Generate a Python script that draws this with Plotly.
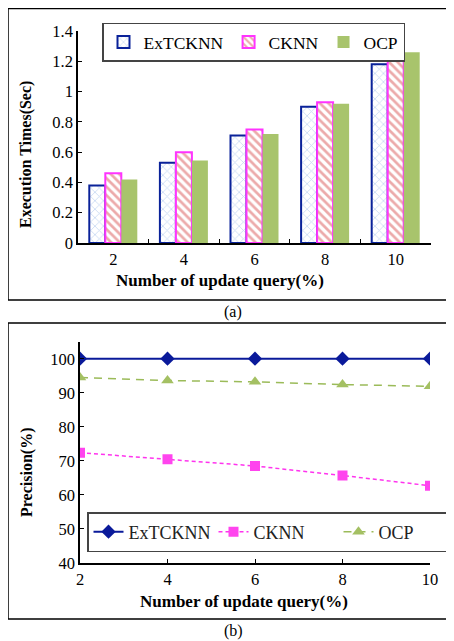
import plotly.graph_objects as go

# The page body has an 8px margin, so the figure is drawn at (8, 8).
OFF = 8
W, H = 454 - OFF, 641 - OFF

# ---- data ----
categories = ["2", "4", "6", "8", "10"]
exec_extcknn = [0.38, 0.53, 0.71, 0.90, 1.18]
exec_cknn = [0.46, 0.60, 0.75, 0.93, 1.31]
exec_ocp = [0.42, 0.545, 0.72, 0.92, 1.26]

update_pct = [2, 4, 6, 8, 10]
prec_extcknn = [100, 100, 100, 100, 100]
prec_cknn = [72.4, 70.5, 68.5, 65.7, 62.7]
prec_ocp = [94.5, 93.6, 93.2, 92.4, 91.9]

SERIF = "Liberation Serif, Times New Roman, serif"


def px_x(p):
    return (p - OFF) / W


def px_y(p):
    return 1 - (p - OFF) / H


fig = go.Figure()

# ---- top: bar chart ----
fig.add_trace(go.Bar(
    x=categories, y=exec_extcknn, name="ExTCKNN", xaxis="x", yaxis="y", legend="legend",
    marker=dict(color="white", line=dict(color="#0A2299", width=2),
                pattern=dict(shape="x", fgcolor="#8FB2E6", bgcolor="white", size=6, solidity=0.25)),
))
fig.add_trace(go.Bar(
    x=categories, y=exec_cknn, name="CKNN", xaxis="x", yaxis="y", legend="legend",
    marker=dict(color="white", line=dict(color="#FF33FF", width=2),
                pattern=dict(shape="\\", fgcolor="#D95555", bgcolor="white", size=6, solidity=0.45)),
))
fig.add_trace(go.Bar(
    x=categories, y=exec_ocp, name="OCP", xaxis="x", yaxis="y", legend="legend",
    marker=dict(color="#A8C46C", line=dict(width=0)),
))

# ---- bottom: line chart ----
fig.add_trace(go.Scatter(
    x=update_pct, y=prec_extcknn, name="ExTCKNN", xaxis="x2", yaxis="y2", legend="legend2",
    mode="lines+markers", line=dict(color="#0A1A9A", width=2),
    marker=dict(symbol="diamond", size=11, color="#0A1A9A"),
))
fig.add_trace(go.Scatter(
    x=update_pct, y=prec_cknn, name="CKNN", xaxis="x2", yaxis="y2", legend="legend2",
    mode="lines+markers", line=dict(color="#FF33EE", width=1.5, dash="4px,3px"),
    marker=dict(symbol="square", size=10, color="#FF44EE"),
))
fig.add_trace(go.Scatter(
    x=update_pct, y=prec_ocp, name="OCP", xaxis="x2", yaxis="y2", legend="legend2",
    mode="lines+markers", line=dict(color="#9BBB59", width=1.5, dash="8px,6px"),
    marker=dict(symbol="triangle-up", size=11, color="#A4C063"),
))

axis_common = dict(
    showline=True, linecolor="black", linewidth=1.5, showgrid=False, zeroline=False,
    ticks="inside", ticklen=4, tickcolor="black", tickwidth=1, automargin=False,
    tickfont=dict(family=SERIF, size=16.5, color="black"),
)

fig.update_layout(
    width=W, height=H,
    margin=dict(l=0, r=0, t=0, b=0, autoexpand=False),
    paper_bgcolor="white", plot_bgcolor="white",
    barmode="group", bargap=0.32, bargroupgap=0,
    xaxis=dict(domain=[px_x(78), px_x(431)], anchor="y", type="category",
               range=[-0.5, 4.5], tickson="boundaries", **axis_common),
    yaxis=dict(domain=[px_y(243), px_y(31)], anchor="x", range=[0, 1.4],
               tickvals=[0, 0.2, 0.4, 0.6, 0.8, 1.0, 1.2, 1.4],
               ticktext=["0", "0.2", "0.4", "0.6", "0.8", "1", "1.2", "1.4"],
               **axis_common),
    xaxis2=dict(domain=[px_x(80), px_x(430)], anchor="y2", range=[2, 10],
                tickvals=[2, 4, 6, 8, 10], **axis_common),
    yaxis2=dict(domain=[px_y(563), px_y(341.7)], anchor="x2", range=[40, 105],
                tickvals=[40, 50, 60, 70, 80, 90, 100], **axis_common),
    legend=dict(orientation="h", x=px_x(102), y=px_y(22.7), xanchor="left", yanchor="top",
                bordercolor="#444", borderwidth=1.5, bgcolor="white",
                font=dict(family=SERIF, size=17.5, color="black"),
                itemwidth=30, tracegroupgap=0),
    legend2=dict(orientation="h", x=px_x(87), y=px_y(512), xanchor="left", yanchor="top",
                 bordercolor="#444", borderwidth=1.5, bgcolor="white",
                 font=dict(family=SERIF, size=18, color="#222"),
                 itemwidth=30, entrywidth=80, tracegroupgap=0),
    showlegend=True,
    shapes=[
        dict(type="rect", xref="paper", yref="paper", x0=px_x(8), x1=px_x(460),
             y0=px_y(300), y1=px_y(8.5), line=dict(color="black", width=1.5)),
        dict(type="rect", xref="paper", yref="paper", x0=px_x(8), x1=px_x(460),
             y0=px_y(619), y1=px_y(323), line=dict(color="black", width=1.5)),
    ],
    annotations=[
        dict(text="<b>Execution Times(Sec)</b>", xref="paper", yref="paper",
             x=px_x(26), y=px_y(155), textangle=-90, showarrow=False,
             xanchor="center", yanchor="middle",
             font=dict(family=SERIF, size=16, color="black")),
        dict(text="<b>Number of update query(%)</b>", xref="paper", yref="paper",
             x=px_x(220), y=px_y(280), showarrow=False,
             xanchor="center", yanchor="middle",
             font=dict(family=SERIF, size=17, color="black")),
        dict(text="(a)", xref="paper", yref="paper", x=px_x(233), y=px_y(312),
             showarrow=False, xanchor="center", yanchor="middle",
             font=dict(family=SERIF, size=16, color="black")),
        dict(text="<b>Precision(%)</b>", xref="paper", yref="paper",
             x=px_x(27), y=px_y(473), textangle=-90, showarrow=False,
             xanchor="center", yanchor="middle",
             font=dict(family=SERIF, size=16, color="black")),
        dict(text="<b>Number of update query(%)</b>", xref="paper", yref="paper",
             x=px_x(244), y=px_y(601), showarrow=False,
             xanchor="center", yanchor="middle",
             font=dict(family=SERIF, size=17, color="black")),
        dict(text="(b)", xref="paper", yref="paper", x=px_x(233), y=px_y(631),
             showarrow=False, xanchor="center", yanchor="middle",
             font=dict(family=SERIF, size=16, color="black")),
    ],
)

fig.write_html("out.html")
